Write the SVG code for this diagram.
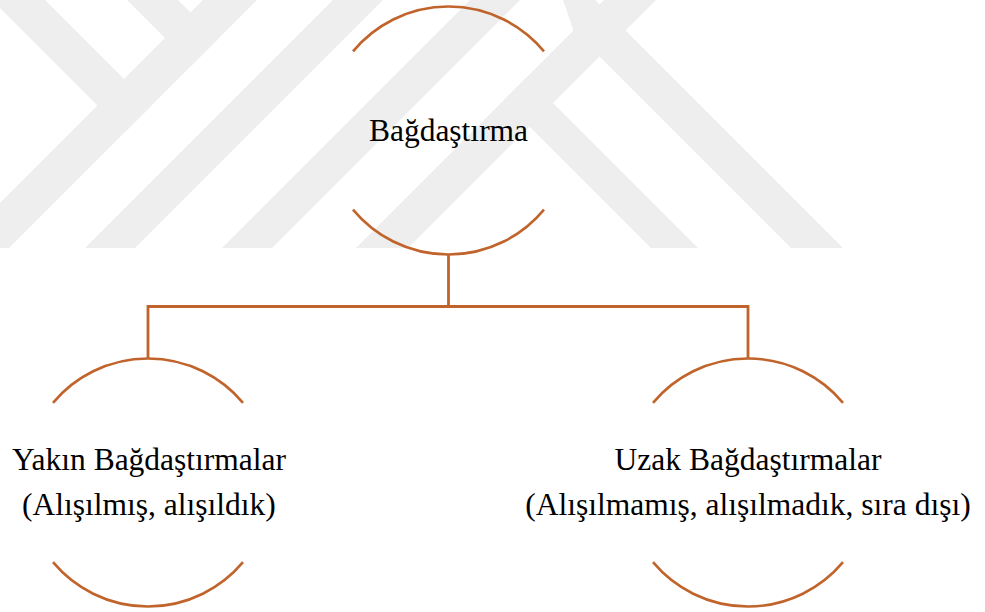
<svg xmlns="http://www.w3.org/2000/svg" width="985" height="612" viewBox="0 0 985 612">
<defs>
<style>
.wm{fill:#EEEEEE;stroke:none}
.arc{fill:none;stroke:#C1642C;stroke-width:2.6}
.conn{fill:none;stroke:#C1642C;stroke-width:2.8}
.lbl{font-family:"Liberation Serif","Times New Roman",serif;font-size:31.5px;fill:#000;text-anchor:middle}
</style>
<clipPath id="wmclip"><rect x="0" y="0" width="985" height="248"/></clipPath>
</defs>
<rect x="0" y="0" width="985" height="612" fill="#FFFFFF"/>
<g id="watermark" clip-path="url(#wmclip)">
<polygon class="wm" points="-8,0 45,0 151,106 124.5,132.5"/>
<polygon class="wm" points="127,0 178,0 217.5,39.5 192,65"/>
<polygon class="wm" points="203,0 257,0 9,248 -45,248"/>
<polygon class="wm" points="333,0 383,0 135,248 85,248"/>
<polygon class="wm" points="470,0 520,0 272,248 222,248"/>
<polygon class="wm" points="604,0 656,0 408,248 356,248"/>
<polygon class="wm" points="563,0 595,0 843,248 791,248 573.5,30.5"/>
<polygon class="wm" points="527,77 698,248 651,248 503.5,100.5"/>
</g>
<g id="connectors">
<path class="conn" d="M448.5 254.5 V306.5 M148 358.5 V306.5 H748 V358.5"/>
</g>
<g id="node-root">
<path class="arc" d="M353 51.4 A124 124 0 0 1 544 51.4"/>
<path class="arc" d="M353 209.6 A124 124 0 0 0 544 209.6"/>
<text class="lbl" x="448.5" y="141">Bağdaştırma</text>
</g>
<g id="node-yakin">
<path class="arc" d="M53 402.8 A124 124 0 0 1 243 402.8"/>
<path class="arc" d="M53 562.2 A124 124 0 0 0 243 562.2"/>
<text class="lbl" x="149" y="470">Yakın Bağdaştırmalar</text>
<text class="lbl" x="149" y="515">(Alışılmış, alışıldık)</text>
</g>
<g id="node-uzak">
<path class="arc" d="M653 402.8 A124 124 0 0 1 843 402.8"/>
<path class="arc" d="M653 562.2 A124 124 0 0 0 843 562.2"/>
<text class="lbl" x="748" y="470">Uzak Bağdaştırmalar</text>
<text class="lbl" x="748" y="515">(Alışılmamış, alışılmadık, sıra dışı)</text>
</g>
</svg>
